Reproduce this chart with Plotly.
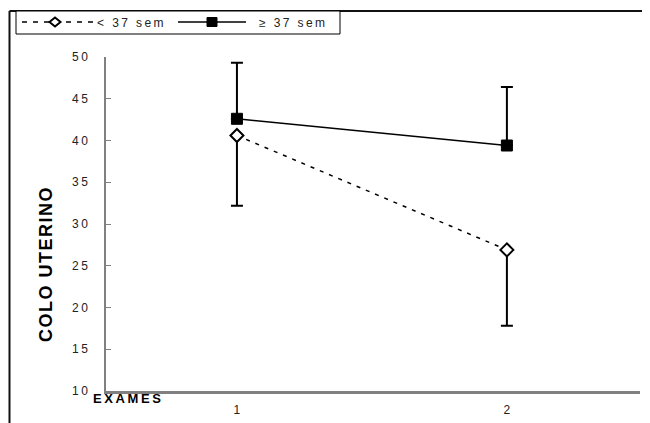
import plotly.graph_objects as go

exams = [1, 2]
lt37_mean = [40.6, 26.9]
lt37_err = [8.4, 9.1]
ge37_mean = [42.6, 39.4]
ge37_err = [6.7, 7.0]
ytick_vals = [10, 15, 20, 25, 30, 35, 40, 45, 50]
xtick_labels = ["1", "2"]
series_names = ["< 37 sem", "≥ 37 sem"]

TS = "\u2009"  # thin space
HS = "\u200a"  # hair space


def spaced(s, sep=TS):
    return sep.join(list(s))


fig = go.Figure()
fig.add_trace(go.Scatter(
    x=exams, y=lt37_mean, mode="lines+markers", name=series_names[0], showlegend=False,
    line=dict(color="black", width=1.5, dash="4px,6px"),
    marker=dict(symbol="diamond", size=10, color="white", line=dict(color="black", width=2)),
    error_y=dict(type="data", symmetric=False, array=[0, 0], arrayminus=lt37_err,
                 color="black", thickness=2, width=6),
))
fig.add_trace(go.Scatter(
    x=exams, y=ge37_mean, mode="lines+markers", name=series_names[1], showlegend=False,
    line=dict(color="black", width=1.5),
    marker=dict(symbol="square", size=11, color="black", line=dict(color="black", width=1)),
    error_y=dict(type="data", symmetric=False, array=ge37_err, arrayminus=[0, 0],
                 color="black", thickness=2, width=6),
))

W, H = 650, 423
L, R, T, B = 98, 18, 49, 40
pw, ph = W - L - R, H - T - B
OFF = 8  # page body margin


def px(X):
    return (X - OFF - L) / pw


def py(Y):
    return (H - B - (Y - OFF)) / ph


shapes = [
    # outer frame
    dict(type="line", xref="paper", yref="paper", x0=px(9.5), x1=px(660), y0=py(11), y1=py(11),
         line=dict(color="#111", width=2)),
    dict(type="line", xref="paper", yref="paper", x0=px(9.5), x1=px(9.5), y0=py(11), y1=py(440),
         line=dict(color="#111", width=2)),
    # legend box
    dict(type="rect", xref="paper", yref="paper", x0=px(16), x1=px(340), y0=py(11), y1=py(34),
         line=dict(color="black", width=1), fillcolor="white"),
    # legend sample: dashed line
    dict(type="line", xref="paper", yref="paper", x0=px(22), x1=px(94), y0=py(22), y1=py(22),
         line=dict(color="black", width=1.5, dash="5px,6px")),
    # legend sample: solid line
    dict(type="line", xref="paper", yref="paper", x0=px(178), x1=px(246), y0=py(22), y1=py(22),
         line=dict(color="black", width=1.5)),
    # legend marker: square
    dict(type="rect", xref="paper", yref="paper", x0=px(207), x1=px(217), y0=py(17.5), y1=py(26.5),
         line=dict(color="black", width=1), fillcolor="black"),
]
# legend marker: open diamond
cx, cy, rx, ry = 55, 22, 5.5, 4.5
shapes.append(dict(
    type="path", xref="paper", yref="paper",
    path=(f"M {px(cx - rx)} {py(cy)} L {px(cx)} {py(cy - ry)} L {px(cx + rx)} {py(cy)} "
          f"L {px(cx)} {py(cy + ry)} Z"),
    line=dict(color="black", width=2), fillcolor="white"))

annotations = [
    dict(text=spaced(series_names[0]), xref="paper", yref="paper", x=px(95), y=py(22.5),
         xanchor="left", yanchor="middle", showarrow=False, font=dict(size=12, color="#222")),
    dict(text=spaced(series_names[1]), xref="paper", yref="paper", x=px(257), y=py(22.5),
         xanchor="left", yanchor="middle", showarrow=False, font=dict(size=12, color="#222")),
    dict(text="<b>" + spaced("EXAMES") + "</b>", xref="paper", yref="paper",
         x=px(91), y=py(398), xanchor="left", yanchor="middle", showarrow=False,
         font=dict(size=13, color="black")),
    dict(text="<b>" + spaced("COLO UTERINO", HS) + "</b>", xref="paper", yref="paper",
         x=px(46), y=py(265), xanchor="center", yanchor="middle", showarrow=False, textangle=-90,
         font=dict(size=18, color="black")),
]

fig.update_layout(
    width=W, height=H,
    margin=dict(l=L, r=R, t=T, b=B),
    paper_bgcolor="white", plot_bgcolor="white",
    font=dict(family="Liberation Sans, Arial", size=12, color="#222"),
    showlegend=False,
    xaxis=dict(range=[0.515, 2.493], tickvals=exams, ticktext=xtick_labels,
               showgrid=False, zeroline=False, showline=True, linecolor="#808080", linewidth=2.5,
               ticks="outside", ticklen=6, tickcolor="rgba(0,0,0,0)",
               tickfont=dict(size=12, color="#222")),
    yaxis=dict(range=[10, 50], tickvals=ytick_vals, ticktext=[spaced(str(v)) for v in ytick_vals],
               showgrid=False, zeroline=False, showline=True, linecolor="#808080", linewidth=1.5,
               ticks="inside", ticklen=5, tickcolor="#808080", tickwidth=1,
               ticklabelstandoff=14,
               tickfont=dict(size=12, color="#222")),
    shapes=shapes,
    annotations=annotations,
)

fig.write_html("out.html")
